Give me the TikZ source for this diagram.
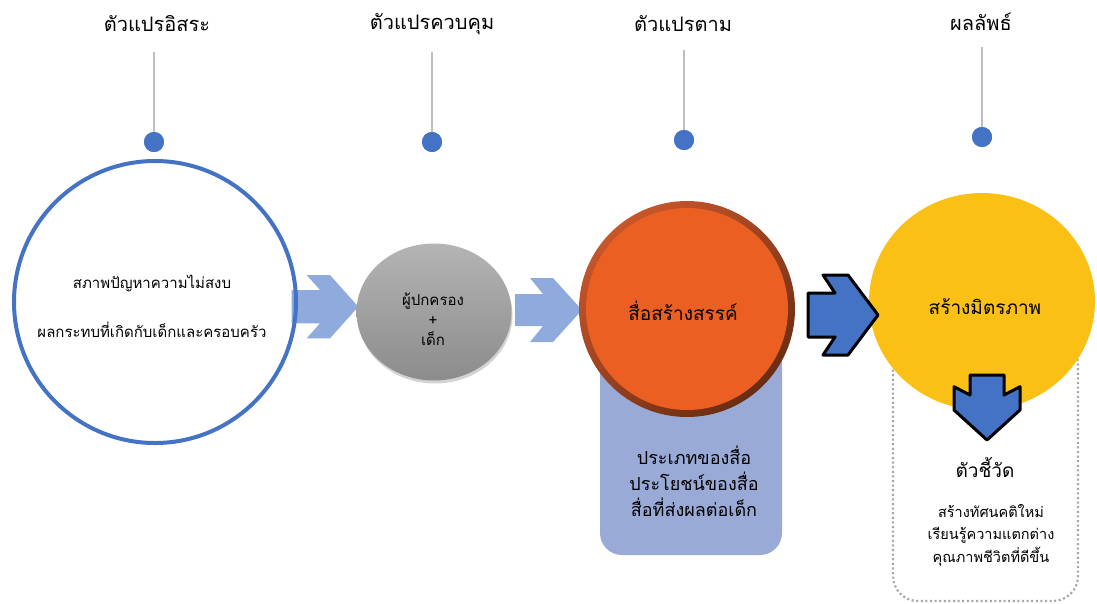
\documentclass[tikz,border=0pt]{standalone}
\usepackage{fontspec}
\newfontfamily\thai[Script=Thai]{Loma}
\usetikzlibrary{shadows,shapes.geometric}
\definecolor{dotblue}{HTML}{4472C4}
\definecolor{lineg}{HTML}{BFBFBF}
\definecolor{lightarrow}{HTML}{8FAADC}
\definecolor{orangef}{HTML}{EC5F23}
\definecolor{ringA}{HTML}{C8562C}
\definecolor{ringB}{HTML}{6A2D12}
\definecolor{yellowf}{HTML}{FBC015}
\definecolor{lav}{HTML}{9AAAD7}
\definecolor{dotg}{HTML}{A6A6A6}
\definecolor{grayA}{HTML}{B4B4B4}
\definecolor{grayB}{HTML}{8C8C8C}
\begin{document}
\begin{tikzpicture}[x=1pt,y=-1pt,
  head/.style={font=\thai\fontsize{20}{24}\selectfont, text=black, inner sep=0},
  body/.style={font=\thai\fontsize{15}{18}\selectfont, text=black, inner sep=0, align=center},
  big/.style={font=\thai\fontsize{19}{23}\selectfont, text=black, inner sep=0, align=center},
  dotnode/.style={circle, fill=dotblue, minimum size=20pt, inner sep=0},
  vline/.style={draw=lineg, line width=1.8pt},
  lightarr/.style={fill=lightarrow},
  boldarr/.style={fill=dotblue, draw=black, line width=3pt, line join=round},
]
\useasboundingbox (0,0) rectangle (1097,603);

% headers, stems and dots
\node[head] (h1) at (157,24) {ตัวแปรอิสระ};
\node[head] (h2) at (432,24) {ตัวแปรควบคุม};
\node[head] (h3) at (683,24) {ตัวแปรตาม};
\node[head] (h4) at (981,22) {ผลลัพธ์};
\coordinate (s1) at (154,52);
\coordinate (s2) at (432,52);
\coordinate (s3) at (684,50);
\coordinate (s4) at (982,47);
\node[dotnode] (d1) at (154,142) {};
\node[dotnode] (d2) at (432,142) {};
\node[dotnode] (d3) at (684,140) {};
\node[dotnode] (d4) at (982,137) {};
\draw[vline] (s1) -- (d1.center);
\draw[vline] (s2) -- (d2.center);
\draw[vline] (s3) -- (d3.center);
\draw[vline] (s4) -- (d4.center);
\node[dotnode] at (154,142) {};
\node[dotnode] at (432,142) {};
\node[dotnode] at (684,140) {};
\node[dotnode] at (982,137) {};

% light arrows
\fill[lightarr] (291.7,290) -- (320,290) -- (306.7,275) -- (330,275) -- (358.3,306.7)
  -- (330,338.3) -- (306.7,338.3) -- (320,323.3) -- (291.7,323.3) -- cycle;
\fill[lightarr] (515,294) -- (543,294) -- (530,278) -- (553,278) -- (582,310)
  -- (553,342) -- (530,342) -- (543,326) -- (515,326) -- cycle;

% independent variable circle
\node[circle, draw=dotblue, line width=4pt, minimum size=282pt, inner sep=0] (c1) at (155,302) {};
\node[body] (c1a) at (152,283) {สภาพปัญหาความไม่สงบ};
\node[body] (c1b) at (152,330) {ผลกระทบที่เกิดกับเด็กและครอบครัว};

% control circle
\node[ellipse, minimum width=155pt, minimum height=137pt, inner sep=0,
  top color=grayA, bottom color=grayB,
  drop shadow={opacity=0.35, shadow xshift=1pt, shadow yshift=-3pt}] (c2) at (434,312) {};
\node[body] (c2t) at (433,319) {ผู้ปกครอง\\[2pt]+\\[2pt]เด็ก};

% dependent variable
\fill[lav] [rounded corners=22pt] (600,340) rectangle (782,555);
\node[circle, minimum size=216pt, inner sep=0, top color=ringA, bottom color=ringB, shading angle=40] (c3) at (687,309) {};
\node[circle, minimum size=202pt, inner sep=0, fill=orangef] (c3i) at (687,309) {};
\node[big] (c3t) at (683,311) {สื่อสร้างสรรค์};
\node[big, font=\thai\fontsize{18}{26}\selectfont] (c3l) at (694,481) {ประเภทของสื่อ\\ประโยชน์ของสื่อ\\สื่อที่ส่งผลต่อเด็ก};

% outcome
\draw[draw=dotg, line width=2.2pt, dash pattern=on 2pt off 2.6pt, rounded corners=25pt] (893,340) rectangle (1078,601);
\node[ellipse, minimum width=226pt, minimum height=217pt, inner sep=0, fill=yellowf] (c4) at (982,301.5) {};
\node[big] (c4t) at (985,307) {สร้างมิตรภาพ};
\fill[boldarr] (808,293) -- (835,293) -- (823,275) -- (848,275) -- (878,315)
  -- (848,355) -- (823,355) -- (835,337) -- (808,337) -- cycle;
\fill[boldarr] (970,375) -- (1004,375) -- (1004,395) -- (1020,386.7) -- (1020,410)
  -- (987,440) -- (954,410) -- (954,386.7) -- (970,395) -- cycle;
\node[big] (ind) at (985,467) {ตัวชี้วัด};
\node[body, font=\thai\fontsize{14.5}{22.5}\selectfont] (indl) at (991,535) {สร้างทัศนคติใหม่\\เรียนรู้ความแตกต่าง\\คุณภาพชีวิตที่ดีขึ้น};
\end{tikzpicture}
\end{document}
